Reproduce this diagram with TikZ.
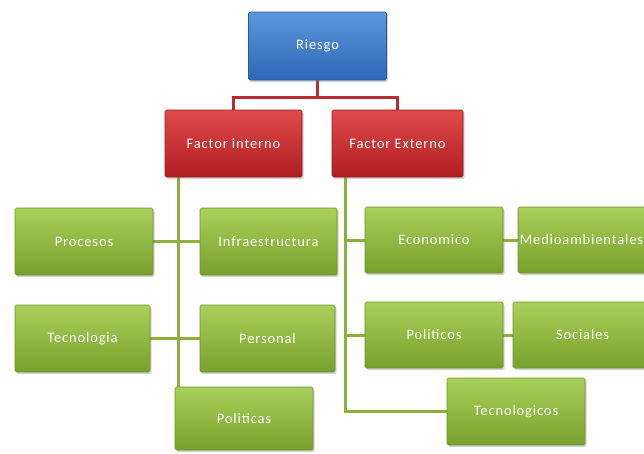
\documentclass[tikz,border=0pt]{standalone}
\usepackage{fontspec}
\setmainfont{Carlito}
\usetikzlibrary{shadows,backgrounds}
\definecolor{gtop}{HTML}{A8D05A}
\definecolor{gbot}{HTML}{78A02C}
\definecolor{gline}{HTML}{8AB23C}
\definecolor{gdraw}{HTML}{6E9428}
\definecolor{rtop}{HTML}{E04A4A}
\definecolor{rbot}{HTML}{B01E22}
\definecolor{rline}{HTML}{B82C30}
\definecolor{rdraw}{HTML}{961A1E}
\definecolor{btop}{HTML}{5A98DC}
\definecolor{bbot}{HTML}{2E68B8}
\definecolor{bdraw}{HTML}{28589A}
\tikzset{
  lbl/.style={text=white, font=\fontsize{14.5}{16}\selectfont\addfontfeatures{LetterSpace=6}},
  basebox/.style={rounded corners=1.5pt, inner sep=0pt, lbl,
    drop shadow={opacity=0.35, shadow xshift=1.5pt, shadow yshift=-2pt}},
  gbox/.style={basebox, draw=gdraw, line width=0.6pt, top color=gtop, bottom color=gbot},
  rbox/.style={basebox, draw=rdraw, line width=0.6pt, top color=rtop, bottom color=rbot},
  bbox/.style={basebox, draw=bdraw, line width=0.6pt, top color=btop, bottom color=bbot},
  sz/.style 2 args={minimum width=#1pt, minimum height=#2pt},
  gconn/.style={draw=gline, line width=3pt},
  rconn/.style={draw=rline, line width=3.5pt},
}
\begin{document}
\begin{tikzpicture}[x=1pt,y=-1pt]
\useasboundingbox (0,0) rectangle (644,453);
\clip (0,0) rectangle (644,453);
% nodes
\node[bbox, sz={138}{68}] (riesgo) at (317.5,46) {Riesgo};
\node[rbox, sz={137}{67}] (fi) at (233.5,143.5) {Factor interno};
\node[rbox, sz={131}{67}] (fe) at (397.5,143.5) {Factor Externo};
\node[gbox, sz={138}{67}, at={(84,241.5)}] (procesos) {Procesos};
\node[gbox, sz={137}{67}, at={(268.5,241.5)}] (infra) {Infraestructura};
\node[gbox, sz={135}{67}, at={(82.5,338.5)}] (tecnologia) {Tecnologia};
\node[gbox, sz={135}{67}, at={(267.5,338.5)}] (personal) {Personal};
\node[gbox, sz={138}{66}, at={(434,240)}] (economico) {Economico};
\node[gbox, sz={138}{66}, at={(434,335)}] (politicos) {Politicos};
\node[gbox, sz={138}{67}, at={(516,411.5)}] (tecnologicos) {Tecnologicos};
\node[gbox, sz={136}{66}, at={(586,240)}] (medio) {};
\node[lbl, anchor=west, inner sep=2pt] (mediot) at (medio.west) {Medioambientales};
\node[gbox, sz={139}{66}, at={(582.5,335)}] (sociales) {Sociales};
\node[gbox, sz={138}{63}, at={(244,418.5)}] (politicas) {Politicas};
\coordinate (lv) at (178,180);
\coordinate (rv) at (345,410);
% connectors behind the boxes
\begin{pgfonlayer}{background}
\draw[rconn] (riesgo.south) -- ++(0,17) -| (fi.north);
\draw[rconn] (riesgo.south) -- ++(0,17) -| (fe.north);
\draw[gconn] (fi.south -| lv) -- ([yshift=-25pt]lv |- politicas.north);
\draw[gconn] (procesos.east) -- (infra.west);
\draw[gconn] (tecnologia.east) -- (personal.west);
\draw[gconn] (fe.south -| rv) -- (rv |- tecnologicos.west) -- (tecnologicos.west);
\draw[gconn] (economico.west -| rv) -- (economico.west);
\draw[gconn] (politicos.west -| rv) -- (politicos.west);
\draw[gconn] (economico.east) -- (medio.west);
\draw[gconn] (politicos.east) -- (sociales.west);
\end{pgfonlayer}
\end{tikzpicture}
\end{document}
